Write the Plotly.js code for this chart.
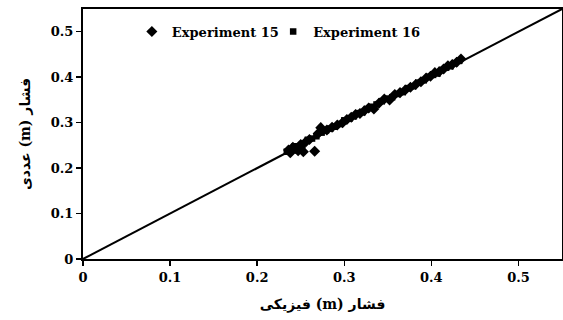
<!DOCTYPE html>
<html>
<head>
<meta charset="utf-8">
<script src="https://cdn.plot.ly/plotly-3.0.1.min.js"></script>
<style>html,body{margin:0;padding:0;background:#fff;}#chart{width:563px;height:320px;}</style>
</head>
<body>
<div id="chart"></div>
<script>
var exp15X = [0.236,0.238,0.241,0.244,0.247,0.250,0.253,0.256,0.260,0.266,0.270,0.273,0.280,0.286,0.292,0.298,0.303,0.308,0.313,0.318,0.323,0.328,0.334,0.340,0.346,0.352,0.358,0.364,0.370,0.376,0.382,0.388,0.394,0.399,0.404,0.409,0.414,0.419,0.424,0.429,0.434];
var exp15Y = [0.240,0.234,0.246,0.243,0.238,0.252,0.236,0.258,0.263,0.237,0.276,0.289,0.284,0.290,0.295,0.300,0.307,0.312,0.318,0.320,0.326,0.332,0.330,0.343,0.352,0.350,0.362,0.366,0.372,0.378,0.384,0.390,0.398,0.402,0.410,0.412,0.418,0.425,0.428,0.433,0.440];
var exp16X = [0.234,0.239,0.243,0.248,0.252,0.258,0.263,0.268,0.274,0.279,0.284,0.289,0.295,0.300,0.306,0.311,0.316,0.321,0.326,0.331,0.337,0.343,0.349,0.355,0.361,0.367,0.373,0.379,0.385,0.391,0.397,0.402,0.407,0.412,0.417,0.422,0.427,0.432];
var exp16Y = [0.236,0.242,0.248,0.245,0.250,0.262,0.265,0.270,0.278,0.283,0.287,0.291,0.297,0.305,0.309,0.314,0.321,0.323,0.330,0.335,0.340,0.347,0.353,0.356,0.363,0.367,0.376,0.380,0.388,0.393,0.401,0.405,0.408,0.416,0.421,0.424,0.431,0.436];
var lineX = [0, 0.55];
var lineY = [0, 0.55];
var tickVals = [0, 0.1, 0.2, 0.3, 0.4, 0.5];
var tickText = ['0', '0.1', '0.2', '0.3', '0.4', '0.5'];
var seriesNames = ['Experiment 15', 'Experiment 16'];
var xTitle = 'فیزیکی <span style="font-family:DejaVu Serif">(m)</span> فشار';
var yTitle = 'عددی <span style="font-family:DejaVu Serif">(m)</span> فشار';

var serif = 'DejaVu Serif';
var traces = [
  {x: lineX, y: lineY, mode: 'lines', line: {color: '#000', width: 2}, showlegend: false, hoverinfo: 'skip'},
  {x: exp15X, y: exp15Y, mode: 'markers', name: seriesNames[0], legend: 'legend',
   marker: {symbol: 'diamond', size: 8.5, color: '#000'}},
  {x: exp16X, y: exp16Y, mode: 'markers', name: seriesNames[1], legend: 'legend2',
   marker: {symbol: 'square', size: 6.5, color: '#000'}}
];
function axis(extra) {
  return Object.assign({
    range: [0, 0.55], tickvals: tickVals, ticktext: tickText,
    showgrid: false, zeroline: false, showline: true, linecolor: '#000', linewidth: 2,
    mirror: true, ticks: 'outside', ticklen: 5, tickwidth: 1.5, tickcolor: '#000',
    tickfont: {family: serif, size: 13, color: '#000', weight: 700}
  }, extra);
}
function legendAt(xp) {
  return {
    orientation: 'h', x: xp, y: 0.91, xanchor: 'left', yanchor: 'middle',
    bgcolor: 'rgba(0,0,0,0)', font: {family: serif, size: 13, color: '#000', weight: 700},
    itemwidth: 30
  };
}
var layout = {
  width: 563, height: 320,
  margin: {l: 83, r: 1, t: 9, b: 61},
  paper_bgcolor: '#fff', plot_bgcolor: '#fff',
  font: {family: serif, size: 13, color: '#000', weight: 700},
  xaxis: axis({
    title: {text: xTitle, font: {family: 'DejaVu Sans', size: 14, color: '#000', weight: 700}, standoff: 16}
  }),
  yaxis: axis({
    title: {text: yTitle, font: {family: 'DejaVu Sans', size: 14, color: '#000', weight: 700}, standoff: 17}
  }),
  legend: legendAt(0.102),
  legend2: legendAt(0.397),
  showlegend: true
};
Plotly.newPlot('chart', traces, layout, {displayModeBar: false, staticPlot: true});
</script>
</body>
</html>
